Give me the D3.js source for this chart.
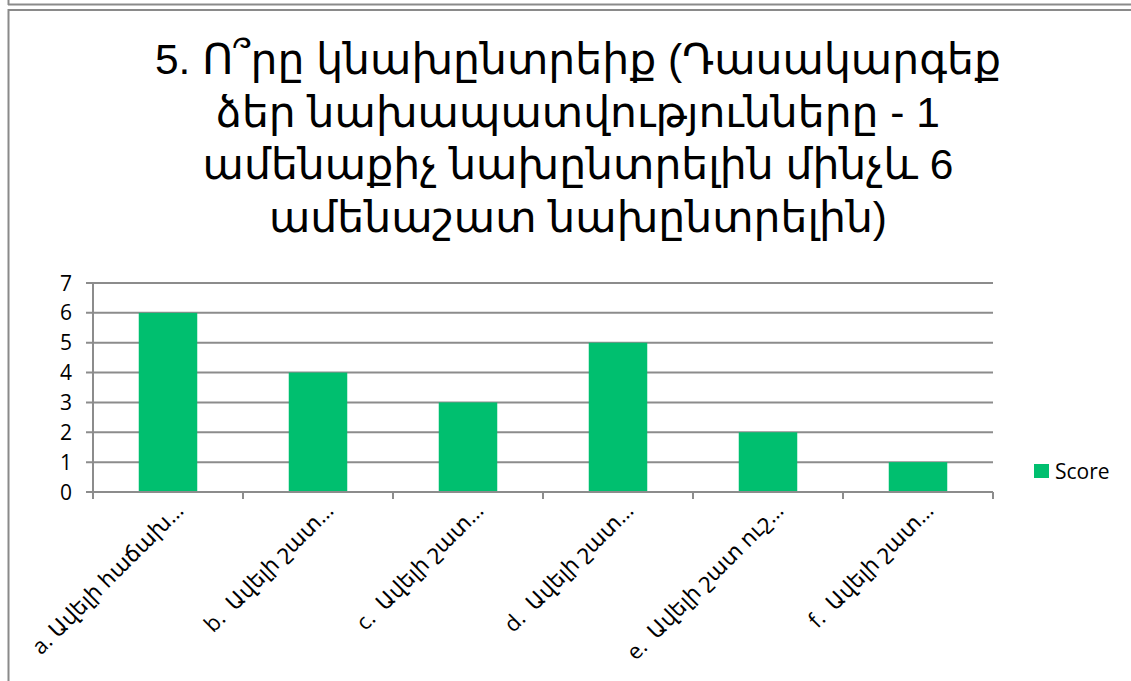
<!DOCTYPE html>
<html>
<head>
<meta charset="utf-8">
<script src="https://cdn.jsdelivr.net/npm/d3@7"></script>
<style>
  html, body { margin: 0; padding: 0; background: #fff; }
  svg { display: block; }
</style>
</head>
<body>
<svg id="chart" width="1131" height="681"></svg>
<script>
const titleLines = [
  "5. Ո՞րը կնախընտրեիք (Դասակարգեք",
  "ձեր նախապատվությունները - 1",
  "ամենաքիչ նախընտրելին մինչև 6",
  "ամենաշատ նախընտրելին)"
];
const categories = [
  "a. Ավելի հաճախ…",
  "b.  Ավելի շատ…",
  "c.  Ավելի շատ…",
  "d.  Ավելի շատ…",
  "e.  Ավելի շատ ուշ…",
  "f.  Ավելի շատ…"
];
const seriesName = "Score";
const scores = [6, 4, 3, 5, 2, 1];
const yTicks = [0, 1, 2, 3, 4, 5, 6, 7];

const svg = d3.select("#chart");
const W = 1131, H = 681;
const gridColor = "#8c8c8c";
const barColor = "#00BF6F";
const labelFont = "'Open Sans', 'DejaVu Sans', sans-serif";

// frames
svg.append("line").attr("x1", 8).attr("x2", W).attr("y1", 4.5).attr("y2", 4.5)
  .attr("stroke", "#8a8a8a").attr("stroke-width", 2);
svg.append("line").attr("x1", 8.5).attr("x2", 8.5).attr("y1", 0).attr("y2", 5)
  .attr("stroke", "#8a8a8a").attr("stroke-width", 2);
svg.append("line").attr("x1", 8).attr("x2", W).attr("y1", 10).attr("y2", 10)
  .attr("stroke", "#8a8a8a").attr("stroke-width", 2);
svg.append("line").attr("x1", 8.5).attr("x2", 8.5).attr("y1", 9).attr("y2", H)
  .attr("stroke", "#8a8a8a").attr("stroke-width", 2);

// title
const title = svg.append("text")
  .attr("text-anchor", "middle")
  .attr("font-family", "'Liberation Sans', Arial, 'DejaVu Sans', sans-serif")
  .attr("font-size", 42.5)
  .attr("fill", "#000");
titleLines.forEach((t, i) => {
  title.append("tspan").attr("x", 578).attr("y", 74 + i * 52.5).text(t);
});

const x0 = 93, x1 = 993, yTop = 283, yBot = 492;
const x = d3.scaleBand().domain(categories).range([x0, x1]).paddingInner(0.61).paddingOuter(0.305);
const y = d3.scaleLinear().domain([0, 7]).range([yBot, yTop]);

// grid
svg.append("g").selectAll("line").data(yTicks).join("line")
  .attr("x1", x0 - 7).attr("x2", x1)
  .attr("y1", d => y(d)).attr("y2", d => y(d))
  .attr("stroke", gridColor).attr("stroke-width", 2);

// y axis line
svg.append("line").attr("x1", x0).attr("x2", x0).attr("y1", yTop).attr("y2", yBot + 7)
  .attr("stroke", gridColor).attr("stroke-width", 2);

// x ticks at band boundaries
const boundaries = d3.range(categories.length + 1).map(i => x0 + i * (x1 - x0) / categories.length);
svg.append("g").selectAll("line").data(boundaries.slice(1)).join("line")
  .attr("x1", d => d).attr("x2", d => d).attr("y1", yBot).attr("y2", yBot + 7)
  .attr("stroke", gridColor).attr("stroke-width", 2);

// bars
svg.append("g").selectAll("rect").data(scores).join("rect")
  .attr("x", (d, i) => x(categories[i]))
  .attr("width", x.bandwidth())
  .attr("y", d => y(d))
  .attr("height", d => y(0) - y(d))
  .attr("fill", barColor);

// redraw baseline above bars
svg.append("line").attr("x1", x0 - 7).attr("x2", x1).attr("y1", yBot).attr("y2", yBot)
  .attr("stroke", gridColor).attr("stroke-width", 2);

// y tick labels
svg.append("g").selectAll("text").data(yTicks).join("text")
  .attr("x", 72).attr("y", d => y(d)).attr("dy", "0.36em")
  .attr("text-anchor", "end")
  .attr("font-family", labelFont).attr("font-size", 21).attr("fill", "#000")
  .text(d => d);

// x labels
svg.append("g").selectAll("text").data(categories).join("text")
  .attr("transform", d => `translate(${x(d) + x.bandwidth() / 2 + 6},${yBot + 9}) rotate(-45)`)
  .attr("text-anchor", "end")
  .attr("dy", "0.7em")
  .attr("font-family", labelFont).attr("font-size", 22).attr("fill", "#000")
  .style("white-space", "pre")
  .text(d => d);

// legend
svg.append("rect").attr("x", 1034).attr("y", 464).attr("width", 15).attr("height", 14).attr("fill", barColor);
svg.append("text").attr("x", 1055).attr("y", 471).attr("dy", "0.36em")
  .attr("font-family", labelFont).attr("font-size", 21).attr("fill", "#000")
  .text(seriesName);
</script>
</body>
</html>
